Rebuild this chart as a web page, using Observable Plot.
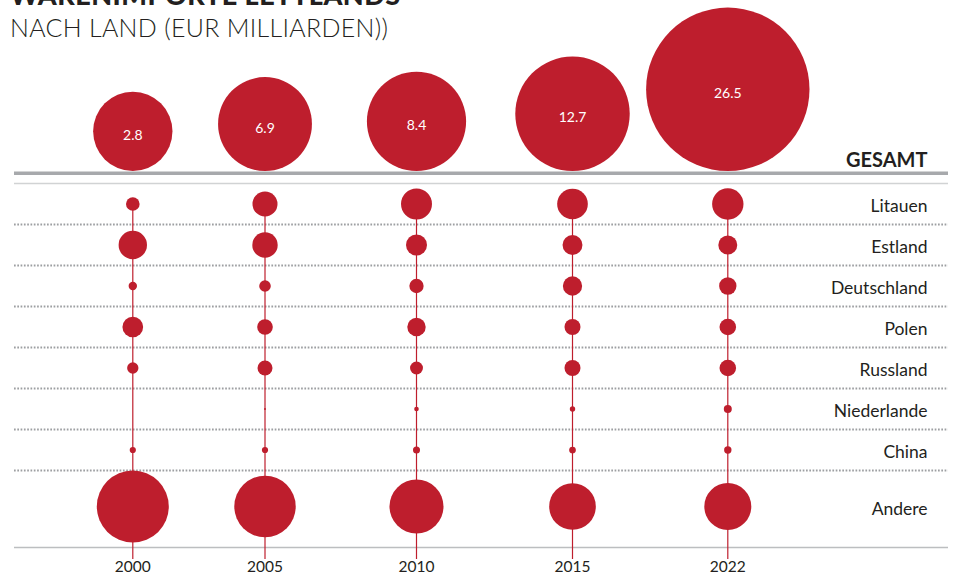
<!DOCTYPE html>
<html>
<head>
<meta charset="utf-8">
<script src="https://cdn.jsdelivr.net/npm/d3@7"></script>
<script src="https://cdn.jsdelivr.net/npm/@observablehq/plot@0.6"></script>
<style>
  html, body { margin: 0; padding: 0; background: #fff; }
  #wrap { position: relative; width: 955px; height: 578px; overflow: hidden; font-family: Lato, "Open Sans", sans-serif; }
  #title { position: absolute; left: 10px; top: -20px; font-size: 27px; font-weight: 900; color: #231f20; line-height: 30px; white-space: nowrap; letter-spacing: 0.5px; }
  #subtitle { position: absolute; left: 10px; top: 12px; font-size: 25px; font-weight: 300; color: #231f20; line-height: 30px; white-space: nowrap; letter-spacing: 0.3px; }
</style>
</head>
<body>
<div id="wrap"></div>
<script>
// ---- data ----
const years = [2000, 2005, 2010, 2015, 2022];
const totals = [2.8, 6.9, 8.4, 12.7, 26.5];          // EUR Mrd.
const countries = ["Litauen", "Estland", "Deutschland", "Polen", "Russland", "Niederlande", "China", "Andere"];
const litauen     = [2.9, 9.8, 15.0, 14.7, 15.4];
const estland     = [12.6, 10.1, 6.9, 6.2, 5.6];
const deutschland = [1.1, 2.1, 3.2, 5.8, 4.7];
const polen       = [6.7, 3.8, 5.3, 4.0, 4.3];
const russland    = [2.0, 3.5, 2.6, 4.0, 4.3];
const niederlande = [0, 0.06, 0.33, 0.45, 1.0];
const china       = [0.6, 0.6, 0.77, 0.7, 0.85];
const andere      = [81, 59, 45.6, 34, 34.5];
const headerLabel = "GESAMT";

const series = [litauen, estland, deutschland, polen, russland, niederlande, china, andere];
const rows = countries.flatMap((c, i) => years.map((y, j) => ({country: c, idx: i, year: y, value: series[i][j]})));
const totalData = years.map((y, j) => ({year: y, total: totals[j]}));

const red = "#be1e2d";
const xScale = {type: "linear", domain: years, range: [132.3, 264.5, 416, 572, 727.3]};
const font = "Lato, 'Open Sans', sans-serif";

// ---- rows plot ----
const rowsPlot = Plot.plot({
  width: 955, height: 578,
  marginTop: 0, marginBottom: 0, marginLeft: 14, marginRight: 7,
  style: {position: "absolute", left: "0px", top: "0px", background: "transparent", fontFamily: font, overflow: "visible"},
  x: {...xScale, axis: null},
  y: {type: "linear", domain: [-0.5, 6.5, 7, 7.5], range: [183, 470, 506, 547], axis: null},
  r: {domain: [0, 100], range: [0, 40]},
  marks: [
    Plot.ruleY([-0.75], {stroke: "#a7a9ac", strokeWidth: 3.5}),
    Plot.ruleY([-0.5], {stroke: "#d1d3d4", strokeWidth: 1.5}),
    Plot.ruleY(d3.range(0.5, 7, 1), {stroke: "#9d9fa2", strokeWidth: 1.8, strokeDasharray: "1.7,1.6"}),
    Plot.ruleY([7.5], {stroke: "#bcbec0", strokeWidth: 1.5}),
    Plot.ruleX(years, {x: d => d, y1: 0, y2: 7.5, insetBottom: -12, stroke: red, strokeWidth: 1.2}),
    Plot.dot(rows, {x: "year", y: "idx", r: "value", fill: red}),
    Plot.text(countries, {y: (d, i) => i, text: d => d, frameAnchor: "right", textAnchor: "end", dx: -21, dy: 2.5, fontSize: 17.5, fill: "#231f20"}),
    Plot.text([headerLabel], {y: -0.75, text: d => d, frameAnchor: "right", textAnchor: "end", lineAnchor: "bottom", dx: -21, dy: -6, fontSize: 20, fontWeight: "bold", fill: "#231f20"}),
    Plot.text(years, {x: d => d, text: d => String(d), frameAnchor: "bottom", dy: -7, fontSize: 15.5, fill: "#231f20"})
  ]
});

// ---- totals plot ----
const baseline = 170.5;
const rRange = [34.7, 81.7];
const totalsPlot = Plot.plot({
  width: 955, height: 578,
  margin: 0,
  style: {position: "absolute", left: "0px", top: "0px", background: "transparent", fontFamily: font, overflow: "visible"},
  x: {...xScale, axis: null},
  y: {type: "linear", domain: [0, 26.5], range: rRange.map(r => baseline - r), axis: null},
  r: {type: "linear", domain: [0, 26.5], range: rRange},
  marks: [
    Plot.dot(totalData, {x: "year", y: "total", r: "total", fill: red}),
    Plot.text(totalData, {x: "year", y: "total", text: d => d.total.toFixed(1), fill: "#ffffff", fontSize: 14, dy: 4})
  ]
});

const wrap = document.getElementById("wrap");
wrap.appendChild(rowsPlot);
wrap.appendChild(totalsPlot);
const t = document.createElement("div"); t.id = "title"; t.textContent = "WARENIMPORTE LETTLANDS"; wrap.appendChild(t);
const s = document.createElement("div"); s.id = "subtitle"; s.textContent = "NACH LAND (EUR MILLIARDEN))"; wrap.appendChild(s);
</script>
</body>
</html>
